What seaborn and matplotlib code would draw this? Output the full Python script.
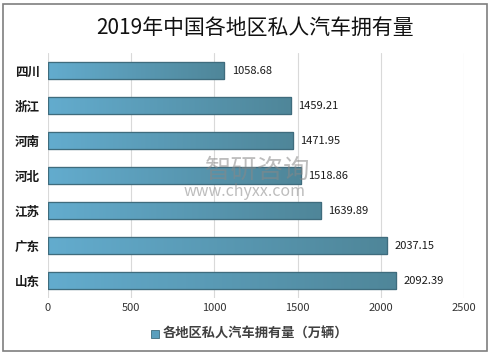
import matplotlib.pyplot as plt
import matplotlib.colors as mcolors
import numpy as np
import pandas as pd
import seaborn as sns
from matplotlib.patches import Rectangle

regions = ["四川", "浙江", "河南", "河北", "江苏", "广东", "山东"]
cars = [1058.68, 1459.21, 1471.95, 1518.86, 1639.89, 2037.15, 2092.39]
x_ticks = [0, 500, 1000, 1500, 2000, 2500]
series_name = "各地区私人汽车拥有量（万辆）"
title = "2019年中国各地区私人汽车拥有量"

sns.set_theme(style="whitegrid")
plt.rcParams["font.family"] = ["Noto Sans CJK SC", "DejaVu Sans"]

df = pd.DataFrame({"region": regions, "cars": cars})

fig = plt.figure(figsize=(4.9, 3.55), dpi=100)
ax = fig.add_axes([0.098, 0.16, 0.849, 0.69])

sns.barplot(data=df, x="cars", y="region", orient="h", ax=ax,
            color="#5a9fbd", width=0.5, edgecolor="#3f6c7d", linewidth=0.8)

# left-to-right gradient on each bar
cmap = mcolors.LinearSegmentedColormap.from_list("bar", ["#63acce", "#4f8699"])
grad = np.linspace(0, 1, 256).reshape(1, -1)
for patch in ax.patches:
    x0, y0 = patch.get_x(), patch.get_y()
    w, h = patch.get_width(), patch.get_height()
    im = ax.imshow(grad, cmap=cmap, aspect="auto", extent=[x0, x0 + w, y0 + h, y0],
                   zorder=patch.get_zorder() + 0.1, interpolation="bicubic")
    im.set_clip_path(patch)
    edge = Rectangle((x0, y0), w, h, fill=False, edgecolor="#3f6c7d", linewidth=0.9,
                     zorder=patch.get_zorder() + 0.2)
    ax.add_patch(edge)

for i, v in enumerate(cars):
    ax.text(v + 45, i, f"{v:.2f}", va="center", ha="left", fontsize=8, color="#1a1a1a")

ax.set_xlim(0, 2500)
ax.set_ylim(6.5, -0.5)
ax.set_xticks(x_ticks)
ax.set_xticklabels([str(t) for t in x_ticks], fontsize=8, color="#333333")
ax.tick_params(axis="y", labelsize=9, colors="#1a1a1a", pad=6)
for lab in ax.get_yticklabels():
    lab.set_fontweight("bold")
ax.set_xlabel("")
ax.set_ylabel("")
ax.grid(axis="y", visible=False)
ax.grid(axis="x", color="#d9d9d9", linewidth=0.8)
for s in ax.spines.values():
    s.set_visible(False)
ax.tick_params(axis="both", length=0)

fig.text(0.52, 0.92, title, ha="center", va="center", fontsize=15, fontweight="medium",
         color="#111111")

# legend
fig.patches.append(Rectangle((0.308, 0.049), 0.016, 0.022, transform=fig.transFigure,
                             facecolor="#5a9fbd", edgecolor="#3f6c7d", linewidth=0.6))
fig.text(0.332, 0.06, series_name, ha="left", va="center", fontsize=9.5,
         fontweight="bold", color="#404040")

# watermark
fig.text(0.525, 0.52, "智研咨询", ha="center", va="center", fontsize=19,
         color="#888888", alpha=0.55)
fig.text(0.5, 0.46, "www.chyxx.com", ha="center", va="center", fontsize=11.5,
         color="#888888", alpha=0.55)

# outer frame
fig.patches.append(Rectangle((0.006, 0.012), 0.988, 0.978, transform=fig.transFigure,
                             fill=False, edgecolor="#7f7f7f", linewidth=1.2))

fig.savefig("out.png", dpi=100)
